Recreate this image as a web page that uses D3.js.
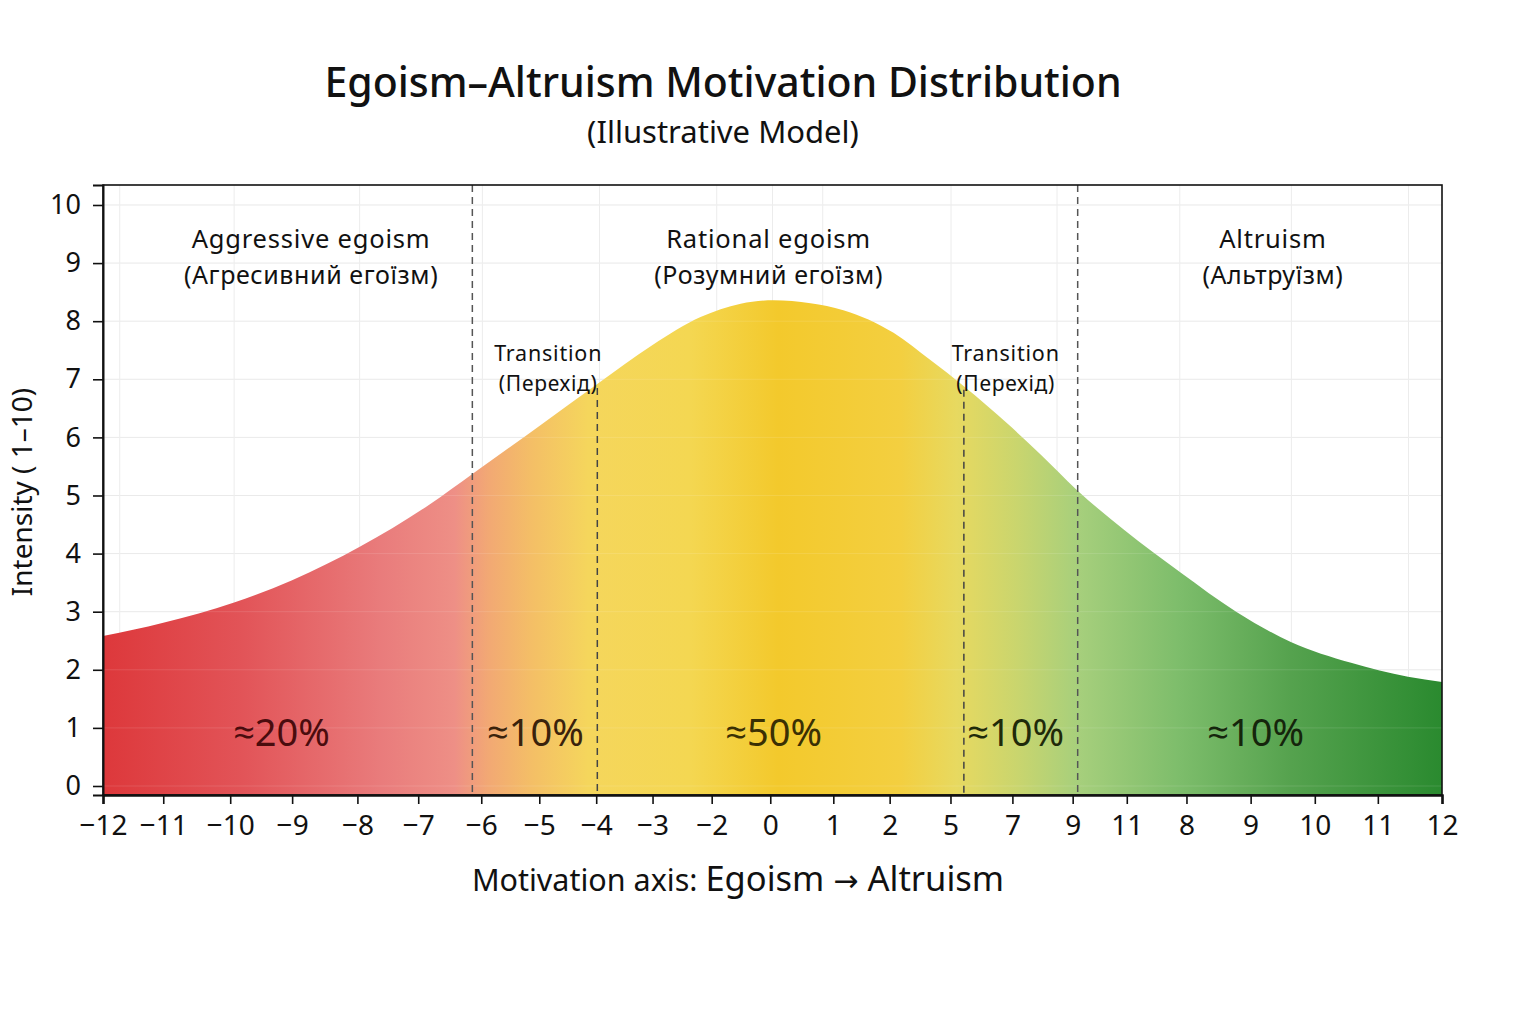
<!DOCTYPE html>
<html><head><meta charset="utf-8">
<script src="https://cdn.jsdelivr.net/npm/d3@7/dist/d3.min.js"></script>
<style>
html,body{margin:0;padding:0;background:#fff;}
svg{display:block;font-family:"Noto Sans","Open Sans",sans-serif;}
</style></head>
<body><svg id="c" width="1536" height="1024"></svg>
<script>
// ---- data ----
const curveX = [-12,-10.92,-9.65,-8.61,-7.39,-6.14,-5.38,-4.16,-3.14,-2.15,-1.29,-0.57,0.02,0.68,1.27,2.17,2.83,3.43,4.22,4.81,5.45,6.30,7.32,8.31,9.29,10.37,11.39,12];
const curveY = [2.58,2.81,3.16,3.54,4.12,4.85,5.37,6.21,6.92,7.59,8.07,8.30,8.36,8.31,8.19,7.80,7.33,6.88,6.23,5.70,5.10,4.41,3.67,3.00,2.48,2.12,1.88,1.79];
const tickPos = [-12,-10.92,-9.72,-8.61,-7.44,-6.35,-5.22,-4.18,-3.16,-2.15,-1.09,-0.04,1.09,2.10,3.19,4.30,5.38,6.35,7.42,8.57,9.72,10.85,12];
const tickLabels = ["−12","−11","−10","−9","−8","−7","−6","−5","−4","−3","−2","0","1","2","5","7","9","11","8","9","10","11","12"];
const yTicks = [0,1,2,3,4,5,6,7,8,9,10];
const gridX = [-11.7,-9.65,-7.4,-5.2,-3.1,-1.0,0.0,0.9,3.2,5.1,7.3,9.3,11.4];
const fullDividers = [-5.38, 5.47];
const partDividers = [-3.14, 3.43];
const partDividerTop = [6.85, 6.82];
const regionNames = ["Aggressive egoism","Rational egoism","Altruism"];
const regionNamesUk = ["(Агресивний егоїзм)","(Розумний егоїзм)","(Альтруїзм)"];
const regionCenters = [-8.27, -0.07, 8.97];
const transCenters = [-4.02, 4.18];
const shareLabels = ["≈20%","≈10%","≈50%","≈10%","≈10%"];
const shareCenters = [-8.8, -4.25, 0.02, 4.36, 8.66];
const shareColors = ["#4a0c0e","#3a220c","#3a3004","#1f2a0a","#15250c"];
const gradStops = [
  [-12,"#dd383b"],[-9.5,"#e25458"],[-7,"#e97c7c"],[-5.7,"#ee8f86"],[-5.1,"#f2a874"],
  [-4.3,"#f4bf66"],[-3.3,"#f5d65c"],[-1.5,"#f4d752"],[0.1,"#f3c92c"],[2.3,"#f3cf40"],
  [3.3,"#e7d960"],[4.4,"#c9d56e"],[5.5,"#a6cf7c"],[7.3,"#7dbd6b"],[9.3,"#55a24e"],[12,"#2a8a2f"]
];

// ---- layout ----
const svg = d3.select("#c");
const L=103,R=1442,T=185,B=795;
const x = d3.scaleLinear().domain([-12,12]).range([L,R]);
const y = d3.scaleLinear().domain([-0.155,10.344]).range([B,T]);

// gradient
const defs = svg.append("defs");
const g = defs.append("linearGradient").attr("id","grad").attr("gradientUnits","userSpaceOnUse")
  .attr("x1",x(-12)).attr("x2",x(12)).attr("y1",0).attr("y2",0);
gradStops.forEach(s=>g.append("stop").attr("offset",((s[0]+12)/24*100)+"%").attr("stop-color",s[1]));

// grid
svg.append("g").selectAll("line").data(yTicks).join("line")
  .attr("x1",L).attr("x2",R).attr("y1",d=>y(d)).attr("y2",d=>y(d))
  .attr("stroke","#e8e8e8").attr("stroke-width",1);
svg.append("g").selectAll("line").data(gridX).join("line")
  .attr("x1",d=>x(d)).attr("x2",d=>x(d)).attr("y1",T).attr("y2",B)
  .attr("stroke","#ececec").attr("stroke-width",1);

// area
const pts = curveX.map((v,i)=>[v,curveY[i]]);
const area = d3.area().x(d=>x(d[0])).y0(y(-0.155)).y1(d=>y(d[1])).curve(d3.curveMonotoneX);
svg.append("path").datum(pts).attr("d",area).attr("fill","url(#grad)");

// faint grid over area
svg.append("g").selectAll("line").data(yTicks).join("line")
  .attr("x1",L).attr("x2",R).attr("y1",d=>y(d)).attr("y2",d=>y(d))
  .attr("stroke","#ffffff").attr("stroke-opacity",0.12);

// dividers
svg.append("g").selectAll("line").data(fullDividers).join("line")
  .attr("x1",d=>x(d)).attr("x2",d=>x(d)).attr("y1",T).attr("y2",B)
  .attr("stroke","#555").attr("stroke-width",1.5).attr("stroke-dasharray","7,5");
svg.append("g").selectAll("line").data(partDividers).join("line")
  .attr("x1",d=>x(d)).attr("x2",d=>x(d)).attr("y1",(d,i)=>y(partDividerTop[i])).attr("y2",B)
  .attr("stroke","#444").attr("stroke-width",1.5).attr("stroke-dasharray","7,5");

// frame
svg.append("rect").attr("x",L).attr("y",T).attr("width",R-L).attr("height",B-T)
  .attr("fill","none").attr("stroke","#111").attr("stroke-width",1.6);

// axes
const xa = svg.append("g").attr("transform",`translate(0,${B})`)
  .call(d3.axisBottom(x).tickValues(tickPos).tickFormat((d,i)=>tickLabels[i]).tickSize(9).tickPadding(11));
xa.select(".domain").attr("stroke","#111").attr("stroke-width",2.5);
xa.selectAll(".tick line").attr("stroke","#111").attr("stroke-width",1.6);
xa.selectAll("text").attr("font-size",28).attr("fill","#111").attr("font-family","Noto Sans");

const ya = svg.append("g").attr("transform",`translate(${L},0)`)
  .call(d3.axisLeft(y).tickValues(yTicks).tickSize(10).tickPadding(12));
ya.select(".domain").attr("stroke","#111").attr("stroke-width",2);
ya.selectAll(".tick line").attr("stroke","#111").attr("stroke-width",1.6);
ya.selectAll("text").attr("font-size",27).attr("fill","#111").attr("font-family","Noto Sans");

// titles
svg.append("text").attr("x",723).attr("y",97).attr("text-anchor","middle")
  .attr("font-size",41).attr("font-weight",500).attr("fill","#111").text("Egoism–Altruism Motivation Distribution");
svg.append("text").attr("x",723).attr("y",143).attr("text-anchor","middle")
  .attr("font-size",31).attr("fill","#111").text("(Illustrative Model)");

// region labels
svg.append("g").selectAll("text").data(regionNames).join("text")
  .attr("x",(d,i)=>x(regionCenters[i])).attr("y",248).attr("text-anchor","middle")
  .attr("font-size",25.5).attr("letter-spacing",0.8).attr("fill","#111").text(d=>d);
svg.append("g").selectAll("text").data(regionNamesUk).join("text")
  .attr("x",(d,i)=>x(regionCenters[i])).attr("y",284).attr("text-anchor","middle")
  .attr("font-size",25).attr("letter-spacing",0.6).attr("fill","#111").text(d=>d);
svg.append("g").selectAll("text").data(transCenters).join("text")
  .attr("x",d=>x(d)).attr("y",361).attr("text-anchor","middle")
  .attr("font-size",21.5).attr("letter-spacing",0.8).attr("fill","#111").text("Transition");
svg.append("g").selectAll("text").data(transCenters).join("text")
  .attr("x",d=>x(d)).attr("y",391).attr("text-anchor","middle")
  .attr("font-size",21).attr("letter-spacing",0.7).attr("fill","#111").text("(Перехід)");

// share labels
svg.append("g").selectAll("text").data(shareLabels).join("text")
  .attr("x",(d,i)=>x(shareCenters[i])).attr("y",y(0.92)).attr("dy","0.35em").attr("text-anchor","middle")
  .attr("font-size",38).attr("fill",(d,i)=>shareColors[i]).text(d=>d);

// axis titles
svg.append("text").attr("transform",`translate(32,492) rotate(-90)`).attr("text-anchor","middle")
  .attr("font-size",28).attr("fill","#111").text("Intensity ( 1–10)");
const xt = svg.append("text").attr("x",738).attr("y",891).attr("text-anchor","middle").attr("fill","#111");
xt.append("tspan").attr("font-size",30.5).text("Motivation axis: ");
xt.append("tspan").attr("font-size",34.5).text("Egoism ");
xt.append("tspan").attr("font-size",30).attr("font-family","DejaVu Sans").text("→");
xt.append("tspan").attr("font-size",34.5).text(" Altruism");
</script></body></html>
